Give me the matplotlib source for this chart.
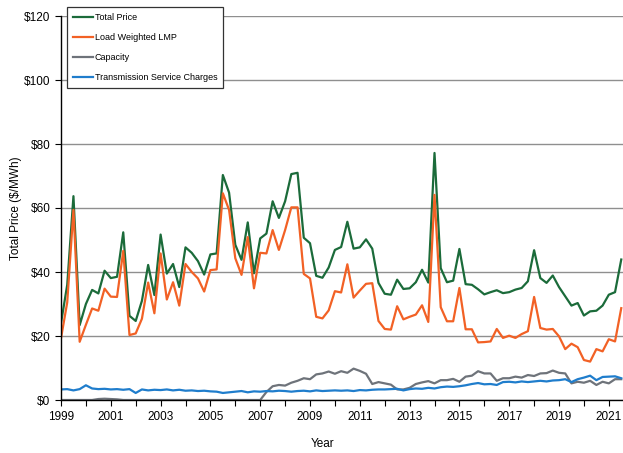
import numpy as np
import matplotlib
matplotlib.use('Agg')
import matplotlib.pyplot as plt
from matplotlib.ticker import MultipleLocator, FixedLocator, FuncFormatter

plt.rcParams['font.family'] = ['Liberation Sans', 'DejaVu Sans']

# Quarterly data, 1999 Q1 .. 2021 Q3 ($/MWh)
quarters = 1999 + np.arange(91) / 4

total_price = [
    24.0, 36.0, 63.7, 23.4, 30.0, 34.4, 33.3, 40.4, 38.1, 38.5, 52.4, 26.3,
    24.7, 31.0, 42.2, 32.8, 51.7, 39.5, 42.5, 35.3, 47.7, 46.0, 43.4, 39.2,
    45.5, 45.8, 70.3, 64.8, 48.5, 43.8, 55.5, 39.6, 50.5, 52.0, 62.1, 56.9,
    62.1, 70.6, 71.0, 50.7, 49.0, 38.8, 38.2, 41.4, 46.9, 47.8, 55.7, 47.3,
    47.7, 50.2, 47.3, 36.6, 33.2, 32.9, 37.6, 34.7, 34.9, 36.8, 40.7, 36.7,
    77.2, 41.2, 36.8, 37.3, 47.2, 36.2, 36.0, 34.6, 33.0, 33.7, 34.3, 33.4,
    33.7, 34.5, 35.0, 37.1, 46.8, 38.1, 36.6, 38.9, 35.3, 32.4, 29.5, 30.3,
    26.4, 27.7, 27.9, 29.5, 32.9, 33.7, 43.9,
]

load_weighted_lmp = [
    19.3, 30.5, 59.4, 18.2, 23.5, 28.6, 27.9, 34.8, 32.3, 32.2, 46.6, 20.3,
    20.8, 25.4, 36.7, 27.1, 45.8, 31.4, 36.8, 29.5, 42.5, 40.0, 38.0, 33.9,
    40.6, 40.8, 64.6, 59.4, 44.3, 39.1, 50.9, 34.9, 46.0, 45.8, 53.1, 46.9,
    53.1, 60.2, 60.2, 39.4, 38.0, 26.0, 25.5, 28.0, 34.0, 33.6, 42.4, 32.0,
    34.2, 36.3, 36.5, 24.7, 22.2, 22.0, 29.3, 25.2, 26.0, 26.7, 29.6, 24.4,
    64.1, 29.0, 24.6, 24.6, 35.0, 22.1, 22.1, 18.0, 18.1, 18.3, 22.2, 19.4,
    20.1, 19.4, 20.6, 21.5, 32.2, 22.5, 22.0, 22.2, 19.9, 15.9, 17.6, 16.5,
    12.5, 12.0, 15.9, 15.2, 19.0, 18.3, 28.7,
]

capacity = [
    0.0, 0.0, 0.0, 0.0, 0.0, 0.0, 0.3, 0.4, 0.3, 0.2, 0.0, 0.0,
    0.0, 0.0, 0.0, 0.0, 0.0, 0.0, 0.0, 0.0, 0.0, 0.0, 0.0, 0.0,
    0.0, 0.0, 0.0, 0.0, 0.0, 0.0, 0.0, 0.0, 0.0, 2.5, 4.3, 4.7,
    4.5, 5.4, 6.0, 6.8, 6.5, 8.0, 8.3, 8.9, 8.2, 9.0, 8.5, 9.8,
    9.1, 8.2, 5.0, 5.6, 5.2, 4.8, 3.3, 3.3, 3.8, 5.0, 5.5, 5.9,
    5.2, 6.2, 6.2, 6.6, 5.7, 7.3, 7.6, 9.0, 8.3, 8.3, 6.0, 6.8,
    6.8, 7.3, 7.0, 7.8, 7.5, 8.3, 8.4, 9.2, 8.5, 8.3, 5.2, 5.7,
    5.4, 6.0, 4.7, 5.7, 5.2, 6.5, 6.5,
]

transmission = [
    3.3, 3.4, 3.0, 3.4, 4.6, 3.6, 3.4, 3.5, 3.3, 3.4, 3.2, 3.4,
    2.2, 3.3, 3.0, 3.2, 3.1, 3.3, 3.0, 3.2, 2.9, 3.0, 2.8, 2.9,
    2.7, 2.6, 2.2, 2.4, 2.6, 2.8, 2.4, 2.7, 2.6, 2.8, 2.7, 2.9,
    2.8, 2.6, 2.8, 2.9, 2.7, 3.0, 2.8, 2.9, 3.0, 2.9, 3.0, 2.8,
    3.1, 3.0, 3.2, 3.3, 3.3, 3.4, 3.5, 3.0, 3.4, 3.6, 3.5, 3.8,
    3.6, 4.0, 4.2, 4.1, 4.3, 4.6, 5.0, 5.3, 4.9, 5.0, 4.7, 5.6,
    5.7, 5.5, 5.8, 5.6, 5.8, 6.0, 5.8, 6.1, 6.2, 6.5, 5.6, 6.5,
    7.0, 7.6, 6.2, 7.2, 7.3, 7.4, 6.8,
]

year_labels = list(range(1999, 2022, 2))

fig = plt.figure(figsize=(6.23, 4.53), dpi=100)
ax = fig.add_axes([61 / 623, 1 - 400 / 453, 1 - 61 / 623, (400 - 16) / 453])

ax.plot(quarters, total_price, color='#1b6b3a', lw=1.6, label='Total Price')
ax.plot(quarters, load_weighted_lmp, color='#f26125', lw=1.6, label='Load Weighted LMP')
ax.plot(quarters, capacity, color='#6e737a', lw=1.6, label='Capacity')
ax.plot(quarters, transmission, color='#1f7dcc', lw=1.6, label='Transmission Service Charges')

ax.set_xlim(1999, 2021.57)
ax.set_ylim(0, 120)
ax.yaxis.set_major_locator(MultipleLocator(20))
ax.yaxis.set_major_formatter(FuncFormatter(lambda v, p: f'${v:.0f}'))
ax.xaxis.set_major_locator(FixedLocator(year_labels))
ax.xaxis.set_minor_locator(MultipleLocator(1))
ax.xaxis.set_major_formatter(FuncFormatter(lambda v, p: f'{v:.0f}'))

ax.grid(axis='y', color='#8f8f8f', lw=1)
ax.set_axisbelow(True)
for s in ['top', 'right']:
    ax.spines[s].set_visible(False)
ax.spines['left'].set_linewidth(1.0)
ax.spines['bottom'].set_linewidth(1.0)
ax.tick_params(axis='both', which='both', direction='out', length=4, width=0.8,
               labelsize=8.5, colors='black')
ax.tick_params(axis='x', which='minor', labelbottom=False)
ax.tick_params(axis='x', pad=4)

ax.set_xlabel('Year', fontsize=8.5)
ax.xaxis.set_label_coords(0.465, -0.1)
ax.set_ylabel('Total Price ($/MWh)', fontsize=8.5)
ax.yaxis.set_label_coords(-0.07, 0.5)

leg = ax.legend(loc='upper left', bbox_to_anchor=(67 / 623, 1 - 7 / 453),
                bbox_transform=fig.transFigure, borderaxespad=0, fontsize=6.5,
                frameon=True, fancybox=False, edgecolor='#333333', framealpha=1,
                handlelength=2.2, handletextpad=0.15, labelspacing=1.2,
                borderpad=0.7)
leg.get_frame().set_linewidth(0.9)

fig.savefig('out.png', dpi=100)
